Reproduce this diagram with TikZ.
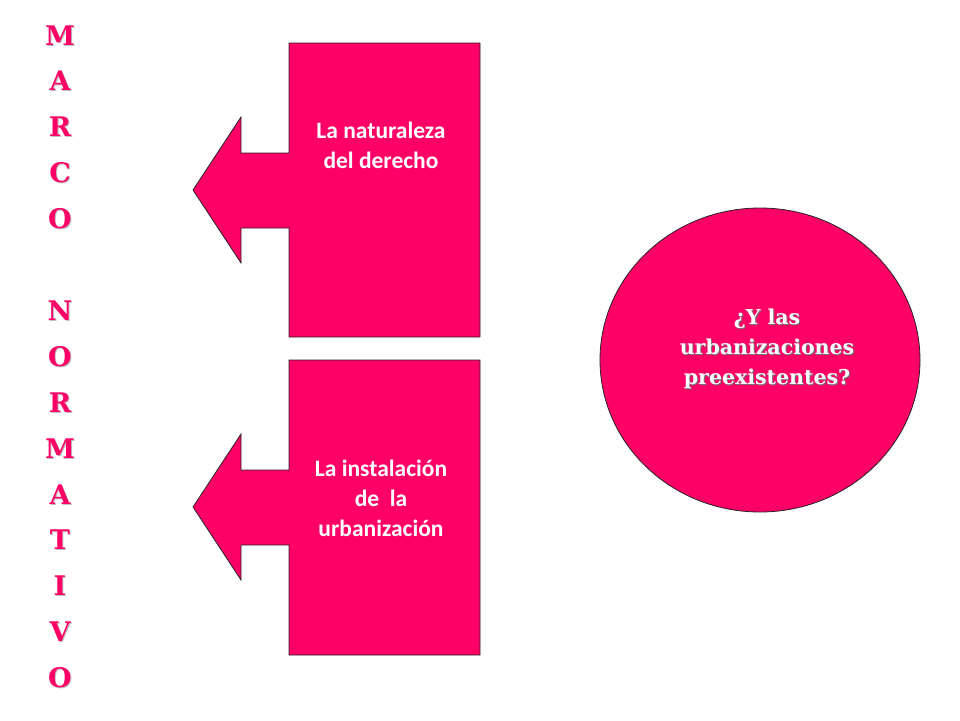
\documentclass[tikz,border=0pt]{standalone}
\usepackage{fontspec}
\setmainfont{Carlito}
\newfontfamily\slab{DejaVu Serif}
\definecolor{hot}{HTML}{FF0066}
\begin{document}
\begin{tikzpicture}[x=1pt,y=-1pt,
  shapeline/.style={draw=black!85,line width=0.8pt,fill=hot,line join=miter},
  letter/.style={text=hot,font=\slab\bfseries\fontsize{27}{27}\selectfont,inner sep=0pt,anchor=base},
  lettershadow/.style={text=black!25,font=\slab\bfseries\fontsize{27}{27}\selectfont,inner sep=0pt,anchor=base},
  boxtext/.style={text=white,font=\bfseries\fontsize{23.5}{30}\selectfont,align=center,inner sep=0pt},
  circtext/.style={text=white,font=\slab\bfseries\fontsize{20.5}{30}\selectfont,align=center,inner sep=0pt},
  circshadow/.style={text=black!55,font=\slab\bfseries\fontsize{20.5}{30}\selectfont,align=center,inner sep=0pt}]
\useasboundingbox (0,0) rectangle (960,720);
% upper callout
\draw[shapeline] (289,43) -- (480,43) -- (480,337) -- (289,337) -- (289,228) -- (241,228) -- (241,263) -- (193,190) -- (241,117) -- (241,153) -- (289,153) -- cycle;
% lower callout
\draw[shapeline] (289,360) -- (480,360) -- (480,655) -- (289,655) -- (289,545) -- (241,545) -- (241,580) -- (193,507) -- (241,434) -- (241,470) -- (289,470) -- cycle;
% circle
\draw[shapeline] (760,360) ellipse [x radius=160pt, y radius=152pt];
\node[boxtext] (t1) at (381,145) {La naturaleza\\del derecho};
\node[boxtext] (t2) at (381,498) {La instalación\\de\ \ la\\urbanización};
\node[circshadow] (c0) at (768,349.8) {¿Y las\\urbanizaciones\\preexistentes?};
\node[circtext] (c1) at (767,349) {¿Y las\\urbanizaciones\\preexistentes?};
% vertical letters
\foreach \ch [count=\k from 0] in {M,A,R,C,O,{},N,O,R,M,A,T,I,V,O}{
  \node[lettershadow] (s\k) at (61,{46+45.9*\k}) {\ch};
  \node[letter] (l\k) at (60,{45+45.9*\k}) {\ch};
}
\end{tikzpicture}
\end{document}
